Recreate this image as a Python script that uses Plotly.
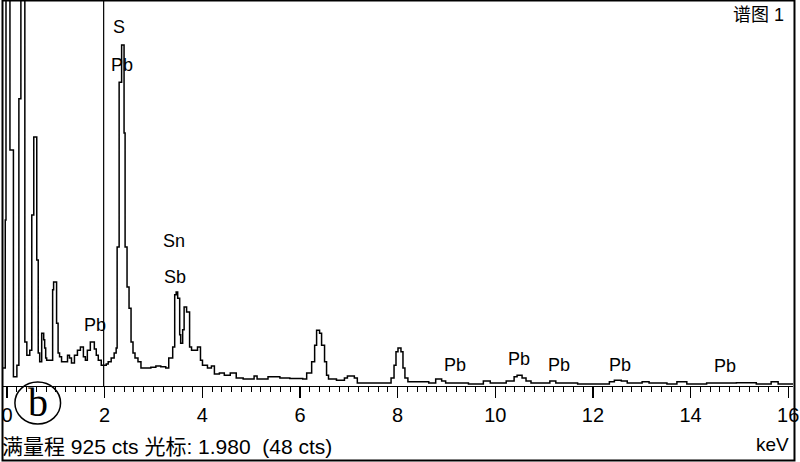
import plotly.graph_objects as go

# ---- spectrum data (energy in keV, counts) ----
energy_kev = [-0.08, -0.035, -0.02, 0.061, 0.132, 0.203, 0.244, 0.285, 0.366, 0.407,
              0.467, 0.508, 0.549, 0.61, 0.64, 0.67, 0.711, 0.752, 0.772, 0.793,
              0.813, 0.935, 0.955, 1.016, 1.047, 1.077, 1.118, 1.24, 1.28, 1.321,
              1.382, 1.443, 1.504, 1.565, 1.606, 1.646, 1.707, 1.789, 1.829, 1.87,
              1.931, 2.033, 2.073, 2.134, 2.195, 2.236, 2.256, 2.297, 2.348, 2.398,
              2.419, 2.459, 2.5, 2.541, 2.581, 2.622, 2.683, 2.744, 2.947, 3.049,
              3.15, 3.252, 3.313, 3.394, 3.435, 3.465, 3.496, 3.537, 3.557, 3.598,
              3.628, 3.679, 3.74, 3.78, 3.902, 3.963, 4.004, 4.106, 4.187, 4.248,
              4.35, 4.451, 4.573, 4.695, 4.837, 5.061, 5.122, 5.346, 5.589, 5.793,
              6.057, 6.138, 6.24, 6.301, 6.341, 6.402, 6.443, 6.504, 6.545, 6.585,
              6.748, 6.911, 6.972, 7.114, 7.175, 7.866, 7.927, 7.967, 8.008, 8.069,
              8.11, 8.15, 8.211, 8.638, 8.78, 8.902, 8.984, 9.451, 9.756, 9.898,
              10.224, 10.386, 10.447, 10.549, 10.63, 10.732, 11.118, 11.24, 11.687, 12.337,
              12.439, 12.581, 12.703, 13.008, 13.15, 13.516, 13.72, 13.923, 14.329, 14.939,
              15.346, 15.65, 15.793, 16.1]
counts = [43, 399, 1400, 567, 22, 50, 690, 1400, 106, 74,
          86, 411, 598, 303, 79, 58, 127, 111, 91, 67,
          62, 231, 250, 151, 79, 70, 58, 74, 67, 55,
          74, 86, 94, 70, 62, 86, 106, 89, 74, 62,
          50, 53, 58, 67, 79, 91, 334, 730, 819, 608,
          334, 238, 187, 106, 79, 67, 58, 43, 45, 48,
          46, 43, 67, 94, 219, 226, 211, 123, 103, 135,
          190, 178, 94, 86, 94, 62, 50, 43, 48, 29,
          31, 26, 31, 19, 17, 24, 17, 22, 19, 18,
          17, 31, 58, 98, 134, 127, 98, 58, 26, 17,
          14, 19, 24, 19, 7, 19, 50, 82, 91, 82,
          43, 19, 10, 7, 17, 12, 7, 5, 12, 7,
          12, 22, 26, 19, 12, 7, 12, 7, 5, 10,
          14, 12, 7, 10, 7, 5, 10, 5, 7, 8,
          5, 10, 5, 5]

# ---- element labels ----
label_text = ["S", "Pb", "Sn", "Sb", "Pb", "Pb", "Pb", "Pb", "Pb", "Pb"]
label_kev = [2.297, 2.358, 3.424, 3.435, 1.809, 9.167, 10.488, 11.30, 12.56, 14.70]
label_cts = [862, 771, 348, 262, 147, 50, 65, 50, 50, 48]

full_scale = 925
cursor_kev = 1.980
cursor_cts = 48
x_tick_vals = [0, 2, 4, 6, 8, 10, 12, 14, 16]
x_tick_text = ["0", "2", "4", "6", "8", "10", "12", "14", "16"]

W, H = 800, 462
ML, MR, MT, MB = 1, 3, 1, 76
PW = W - ML - MR
PH = H - MT - MB


def px(x):
    return (x - ML) / PW


def py(y):
    return (H - MB - y) / PH


fig = go.Figure()
fig.add_trace(go.Scatter(
    x=energy_kev, y=counts, mode="lines", line_shape="hv",
    line=dict(color="black", width=1.5), hoverinfo="skip", showlegend=False))

for t, xk, yc in zip(label_text, label_kev, label_cts):
    fig.add_annotation(x=xk, y=yc, text=t, showarrow=False,
                       font=dict(family="Liberation Sans", size=18, color="black"),
                       xanchor="center", yanchor="middle")

# cursor line
fig.add_shape(type="line", xref="x", yref="paper", x0=cursor_kev, x1=cursor_kev,
              y0=0, y1=1, line=dict(color="black", width=1.2))

# outer frame
fig.add_shape(type="rect", xref="paper", yref="paper",
              x0=px(0.5), x1=px(798.5), y0=py(460.5), y1=py(0.5),
              line=dict(color="black", width=2))

# circled "b"
fig.add_shape(type="circle", xref="paper", yref="paper",
              x0=px(13), x1=px(59), y0=py(424), y1=py(382),
              line=dict(color="black", width=1.5))
fig.add_annotation(xref="paper", yref="paper", x=px(36), y=py(403), text="b",
                   showarrow=False, xanchor="center", yanchor="middle",
                   font=dict(family="Liberation Serif", size=40, color="black"))

# bottom status text
fig.add_annotation(xref="paper", yref="paper", x=px(-2), y=py(446),
                   text=f"满量程 {full_scale} cts 光标: {cursor_kev:.3f}  ({cursor_cts} cts)",
                   showarrow=False, xanchor="left", yanchor="middle",
                   font=dict(family="Liberation Sans, Noto Sans CJK SC", size=21, color="black"))
fig.add_annotation(xref="paper", yref="paper", x=px(795), y=py(444), text="keV",
                   showarrow=False, xanchor="right", yanchor="middle",
                   font=dict(family="Liberation Sans", size=19, color="black"))
fig.add_annotation(xref="paper", yref="paper", x=px(790), y=py(15), text="谱图 1",
                   showarrow=False, xanchor="right", yanchor="middle",
                   font=dict(family="Liberation Sans, Noto Sans CJK SC", size=18, color="black"))

fig.update_xaxes(range=[(1 - 5) / 49.2, (797 - 5) / 49.2], showgrid=False, zeroline=False,
                 showline=True, linecolor="black", linewidth=1.3,
                 ticks="outside", tickvals=x_tick_vals, ticktext=x_tick_text,
                 ticklen=11, tickwidth=1.3, tickcolor="black",
                 ticklabeloverflow="allow",
                 tickfont=dict(family="Liberation Sans", size=20, color="black"),
                 minor=dict(dtick=0.2, tick0=0, ticks="outside", ticklen=5,
                            tickwidth=1, tickcolor="black"))
fig.update_yaxes(range=[0, full_scale], visible=False, showgrid=False, zeroline=False)

fig.update_layout(width=W, height=H, margin=dict(l=ML, r=MR, t=MT, b=MB),
                  paper_bgcolor="white", plot_bgcolor="white", showlegend=False)

fig.write_html("out.html", config={"displayModeBar": False, "staticPlot": True},
               post_script="document.body.style.margin='0';document.body.style.overflow='hidden';")
